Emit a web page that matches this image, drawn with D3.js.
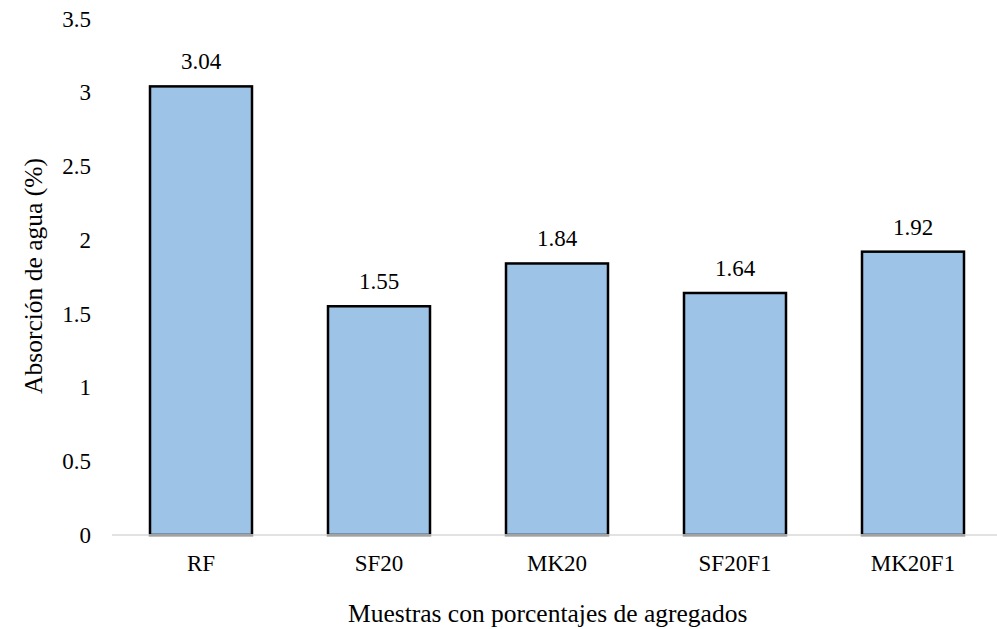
<!DOCTYPE html>
<html>
<head>
<meta charset="utf-8">
<script src="https://cdn.jsdelivr.net/npm/d3@7"></script>
<style>
  body { margin: 0; background: #fff; }
</style>
</head>
<body>
<div id="chart-area"></div>
<script>
var categories = ["RF", "SF20", "MK20", "SF20F1", "MK20F1"];
var values = [3.04, 1.55, 1.84, 1.64, 1.92];
var yTicks = [0, 0.5, 1, 1.5, 2, 2.5, 3, 3.5];

var W = 997, H = 629;

var svg = d3.select("#chart-area").append("svg")
    .attr("width", W)
    .attr("height", H);

function label(sel, size) {
    return sel.style("font-family", "'Liberation Serif'")
        .style("font-size", size + "px")
        .style("fill", "#000");
}

var x = d3.scaleBand().domain(categories).range([112, 1002]).paddingInner(0.427).paddingOuter(0.2135);
var y = d3.scaleLinear().domain([0, 3.5]).range([535, 18.5]);

// y tick labels (no axis line)
svg.append("g").selectAll("text")
    .data(yTicks)
  .enter().append("text")
    .attr("x", 91)
    .attr("y", (d) => y(d))
    .attr("dy", "0.35em")
    .attr("text-anchor", "end")
    .call(label, 23)
    .text((d) => d);

// bars
svg.append("g").selectAll("rect")
    .data(values)
  .enter().append("rect")
    .attr("x", (d, i) => x(categories[i]))
    .attr("y", (d) => y(d))
    .attr("width", x.bandwidth())
    .attr("height", (d) => y(0) - y(d))
    .attr("fill", "#9DC3E6")
    .attr("stroke", "#000")
    .attr("stroke-width", 2.5);

// x axis line
svg.append("line")
    .attr("x1", 112).attr("x2", 1002)
    .attr("y1", y(0)).attr("y2", y(0))
    .attr("stroke", "#D9D9D9")
    .attr("stroke-width", 1.5);

// value labels
svg.append("g").selectAll("text")
    .data(values)
  .enter().append("text")
    .attr("x", (d, i) => x(categories[i]) + x.bandwidth() / 2)
    .attr("y", (d) => y(d) - 17)
    .attr("text-anchor", "middle")
    .call(label, 23)
    .text((d) => d.toFixed(2));

// category labels
svg.append("g").selectAll("text")
    .data(categories)
  .enter().append("text")
    .attr("x", (d) => x(d) + x.bandwidth() / 2)
    .attr("y", 571)
    .attr("text-anchor", "middle")
    .call(label, 23)
    .text((d) => d);

// axis titles
svg.append("text")
    .attr("x", 348)
    .attr("y", 622)
    .call(label, 25.5)
    .text("Muestras con porcentajes de agregados");

svg.append("text")
    .attr("transform", "translate(42, 276) rotate(-90)")
    .attr("text-anchor", "middle")
    .call(label, 25.5)
    .text("Absorción de agua (%)");
</script>
</body>
</html>
